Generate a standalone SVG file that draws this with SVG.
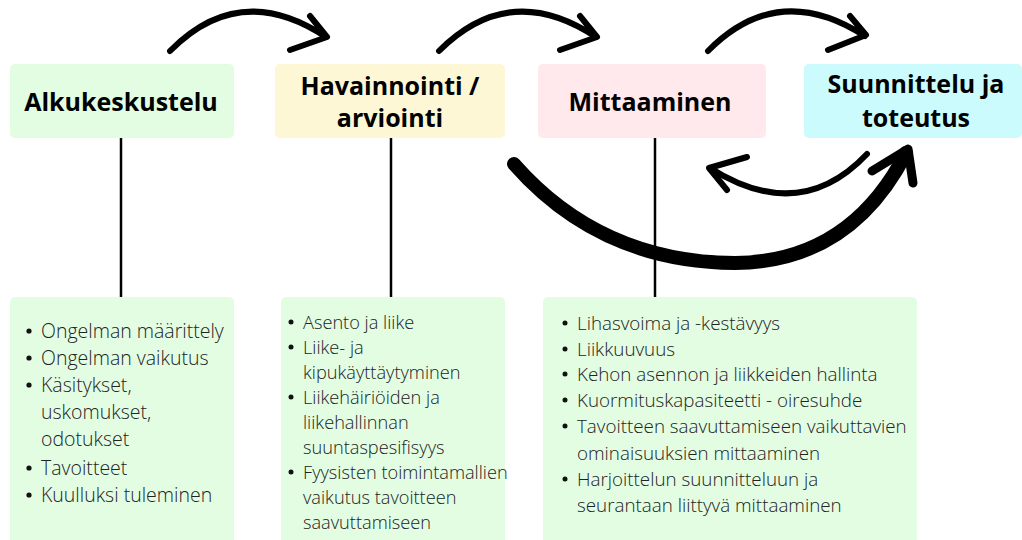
<svg xmlns="http://www.w3.org/2000/svg" width="1022" height="540" viewBox="0 0 1022 540">
<style>
.h{font-family:"Open Sans","Liberation Sans",sans-serif;font-weight:700;font-size:25px;fill:#000;text-anchor:middle}
.b{font-family:"Open Sans","Liberation Sans",sans-serif;font-weight:300;fill:#222}
.ar{fill:none;stroke:#000;stroke-linecap:round;stroke-linejoin:round}
.ln{stroke:#000;stroke-width:2.5}
</style>
<rect width="1022" height="540" fill="#fff"/>
<g id="connectors">
<line class="ln" x1="121" y1="138" x2="121" y2="297"/>
<line class="ln" x1="391" y1="138" x2="391" y2="297"/>
<line class="ln" x1="655" y1="138" x2="655" y2="297"/>
<path class="ar" stroke-width="6" d="M170,51 Q240,-20 326,37 M310,16 L327,37 L290,50"/>
<path class="ar" stroke-width="6" d="M439,51 Q510,-20 596,37 M580,16 L597,37 L560,50"/>
<path class="ar" stroke-width="6" d="M708,51 Q778,-20 865,36 M850,16 L866,35 L828,50"/>
<path class="ar" stroke-width="6" d="M867,154 Q800,225 710,168 M747,157 L709,168 L727,190"/>
<path class="ar" stroke-width="14" d="M514,164 Q600,262 735,263 Q850,262 906,153"/>
<path class="ar" stroke-width="9" d="M872,171 L908,149 L913,183"/>
</g>
<g id="n1"><rect x="10" y="64" width="224" height="74" rx="5" fill="#e3fde3"/><text class="h" x="121" y="111">Alkukeskustelu</text></g>
<g id="n2"><rect x="275" y="64" width="230" height="74" rx="5" fill="#fdf7d5"/><text class="h" x="390" y="95">Havainnointi /</text><text class="h" x="390" y="127">arviointi</text></g>
<g id="n3"><rect x="538" y="64" width="228" height="74" rx="5" fill="#ffe9ec"/><text class="h" x="650" y="111">Mittaaminen</text></g>
<g id="n4"><rect x="804" y="64" width="218" height="74" rx="5" fill="#ccfbfd"/><text class="h" x="916" y="93">Suunnittelu ja</text><text class="h" x="916" y="127">toteutus</text></g>
<g id="d1">
<rect x="10" y="297" width="224" height="250" rx="5" fill="#e3fde3"/>
<g fill="#111"><circle cx="29" cy="331" r="2.6"/><circle cx="29" cy="358" r="2.6"/><circle cx="29" cy="385" r="2.6"/><circle cx="29" cy="468" r="2.6"/><circle cx="29" cy="495" r="2.6"/></g>
<text class="b" font-size="19.5"><tspan x="41" y="338">Ongelman määrittely</tspan><tspan x="41" y="365">Ongelman vaikutus</tspan><tspan x="41" y="392">Käsitykset,</tspan><tspan x="41" y="419">uskomukset,</tspan><tspan x="41" y="446">odotukset</tspan><tspan x="41" y="475">Tavoitteet</tspan><tspan x="41" y="502">Kuulluksi tuleminen</tspan></text>
</g>
<g id="d2">
<rect x="281" y="297" width="224" height="250" rx="5" fill="#e3fde3"/>
<g fill="#111"><circle cx="291" cy="322" r="2.5"/><circle cx="291" cy="347" r="2.5"/><circle cx="291" cy="397" r="2.5"/><circle cx="291" cy="472" r="2.5"/></g>
<text class="b" font-size="18.2"><tspan x="303" y="328.5">Asento ja liike</tspan><tspan x="303" y="353.5">Liike- ja</tspan><tspan x="303" y="378.5">kipukäyttäytyminen</tspan><tspan x="303" y="403.5">Liikehäiriöiden ja</tspan><tspan x="303" y="428.5">liikehallinnan</tspan><tspan x="303" y="453.5">suuntaspesifisyys</tspan><tspan x="303" y="478.5">Fyysisten toimintamallien</tspan><tspan x="303" y="503.5">vaikutus tavoitteen</tspan><tspan x="303" y="528.5">saavuttamiseen</tspan></text>
</g>
<g id="d3">
<rect x="543" y="297" width="374" height="250" rx="5" fill="#e3fde3"/>
<g fill="#111"><circle cx="565" cy="323" r="2.5"/><circle cx="565" cy="349" r="2.5"/><circle cx="565" cy="374" r="2.5"/><circle cx="565" cy="400" r="2.5"/><circle cx="565" cy="426" r="2.5"/><circle cx="565" cy="479" r="2.5"/></g>
<text class="b" font-size="18.8"><tspan x="577" y="329.5">Lihasvoima ja -kestävyys</tspan><tspan x="577" y="355.5">Liikkuuvuus</tspan><tspan x="577" y="380.5">Kehon asennon ja liikkeiden hallinta</tspan><tspan x="577" y="406.5">Kuormituskapasiteetti - oiresuhde</tspan><tspan x="577" y="432.5">Tavoitteen saavuttamiseen vaikuttavien</tspan><tspan x="577" y="459.5">ominaisuuksien mittaaminen</tspan><tspan x="577" y="485.5">Harjoittelun suunnitteluun ja</tspan><tspan x="577" y="511.5">seurantaan liittyvä mittaaminen</tspan></text>
</g>
</svg>
